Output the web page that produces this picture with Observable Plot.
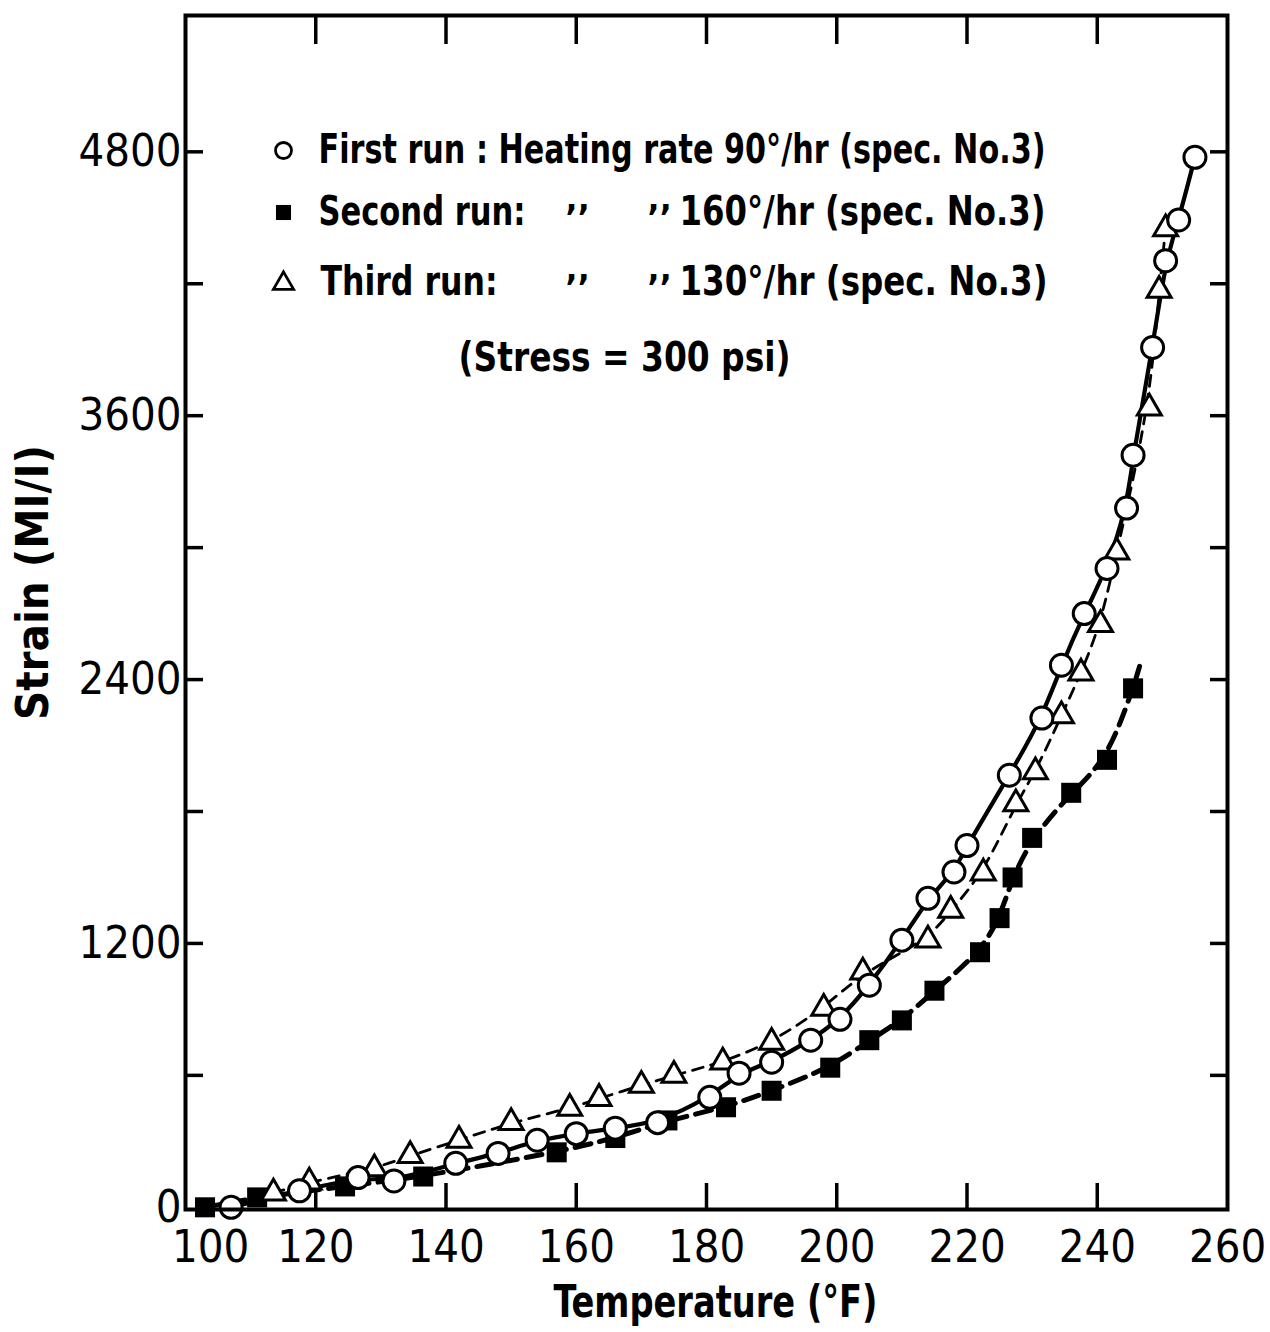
<!DOCTYPE html>
<html>
<head>
<meta charset="utf-8">
<script src="https://cdn.jsdelivr.net/npm/d3@7"></script>
<script src="https://cdn.jsdelivr.net/npm/@observablehq/plot@0.6"></script>
<style>
  html, body { margin: 0; padding: 0; background: white; }
  #chart { width: 1270px; height: 1332px; }
</style>
</head>
<body>
<div id="chart"></div>
<script>
// ---- Data ----
// First run (open circles), heating rate 90°/hr
const firstT = [107, 117.5, 126.5, 132, 141.5, 148, 154, 160, 166, 172.5, 180.5, 185, 190, 196, 200.5, 205, 210, 214, 218, 220, 226.5, 231.5, 234.5, 238, 241.5, 244.5, 245.5, 248.5, 250.5, 252.5, 255];
const firstS = [0, 75, 135, 120, 200, 245, 305, 335, 360, 385, 500, 610, 660, 760, 855, 1010, 1215, 1405, 1525, 1645, 1965, 2225, 2465, 2700, 2905, 3180, 3420, 3910, 4305, 4490, 4775];
// Second run (filled squares), heating rate 160°/hr
const secondT = [103, 111, 124.5, 136.5, 157, 166, 174, 183, 190, 199, 205, 210, 215, 222, 225, 227, 230, 236, 241.5, 245.5];
const secondS = [0, 45, 95, 140, 250, 315, 395, 455, 530, 635, 760, 850, 985, 1160, 1315, 1500, 1680, 1885, 2035, 2360];
// end of the fitted dashed curve of the second run (beyond last square)
const secondTailT = [246.5];
const secondTailS = [2460];
// Third run (open triangles), heating rate 130°/hr
const thirdT = [113.5, 119, 129, 134.5, 142, 150, 159, 163.5, 170, 175, 182.5, 190, 198, 204, 214, 217.5, 222.5, 227.5, 230.5, 234.5, 237.5, 240.5, 243, 248, 249.5, 250.5];
const thirdS = [65, 115, 175, 235, 305, 385, 450, 495, 555, 600, 660, 750, 905, 1070, 1215, 1350, 1520, 1835, 1980, 2235, 2430, 2650, 2980, 3635, 4170, 4450];

// ---- Axis ticks ----
const xTickMarks = [120, 140, 160, 180, 200, 220, 240];
const xTickLabels = [120, 140, 160, 180, 200, 220, 240, 260];
const xFirstLabel = [100];
const yTickMarks = [600, 1200, 1800, 2400, 3000, 3600, 4200, 4800];
const yTickLabels = [0, 1200, 2400, 3600, 4800];

// ---- Texts ----
const xTitle = "Temperature (°F)";
const yTitle = "Strain (MI/I)";
const legendFirst = "First run : Heating rate 90°/hr (spec. No.3)";
const legendRun = ["Second run:", "Third run:"];
const legendRate = ["160°/hr (spec. No.3)", "130°/hr (spec. No.3)"];
const dittoMark = "’’";
const stressNote = "(Stress = 300 psi)";

const zip = (T, S) => T.map((t, i) => ({t, s: S[i]}));
const first = zip(firstT, firstS);
const second = zip(secondT, secondS);
const secondCurve = second.concat(zip(secondTailT, secondTailS));
const third = zip(thirdT, thirdS);

const FONT = "'DejaVu Sans Condensed', 'DejaVu Sans', sans-serif";
const legendFont = 40;
const rowDy = [135, 197, 267];

const legendMarks = [];
// symbols
legendMarks.push(Plot.dot([0], {frameAnchor: "top-left", dx: 98, dy: rowDy[0], r: 8, symbol: "circle", fill: "white", stroke: "black", strokeWidth: 2.8}));
legendMarks.push(Plot.dot([0], {frameAnchor: "top-left", dx: 98, dy: rowDy[1], r: 8.5, symbol: "square", fill: "black", stroke: "none"}));
legendMarks.push(Plot.dot([0], {frameAnchor: "top-left", dx: 98, dy: rowDy[2] + 1, r: 7.5, symbol: "triangle", fill: "white", stroke: "black", strokeWidth: 2.8}));
// labels
legendMarks.push(Plot.text([legendFirst], {text: d => d, frameAnchor: "top-left", dx: 133, dy: rowDy[0], textAnchor: "start", lineAnchor: "middle", fontSize: legendFont, fontWeight: 600}));
const runDx = [133, 135];
legendRun.forEach((s, i) => legendMarks.push(Plot.text([s], {text: d => d, frameAnchor: "top-left", dx: runDx[i], dy: rowDy[i + 1], textAnchor: "start", lineAnchor: "middle", fontSize: legendFont, fontWeight: 600})));
legendRate.forEach((s, i) => legendMarks.push(Plot.text([s], {text: d => d, frameAnchor: "top-left", dx: 494, dy: rowDy[i + 1], textAnchor: "start", lineAnchor: "middle", fontSize: legendFont, fontWeight: 600})));
[1, 2].forEach(i => {
  legendMarks.push(Plot.text([dittoMark], {text: d => d, frameAnchor: "top-left", dx: 392, dy: rowDy[i] + 6, textAnchor: "middle", lineAnchor: "middle", fontSize: 36, fontWeight: 700}));
  legendMarks.push(Plot.text([dittoMark], {text: d => d, frameAnchor: "top-left", dx: 474, dy: rowDy[i] + 6, textAnchor: "middle", lineAnchor: "middle", fontSize: 36, fontWeight: 700}));
});
legendMarks.push(Plot.text([stressNote], {text: d => d, frameAnchor: "top-left", dx: 439, dy: 343, textAnchor: "middle", lineAnchor: "middle", fontSize: legendFont, fontWeight: 600}));

const chart = Plot.plot({
  width: 1270,
  height: 1332,
  marginLeft: 185,
  marginRight: 43,
  marginTop: 15,
  marginBottom: 123,
  style: {fontFamily: FONT, fontSize: "45px", background: "white", color: "black"},
  x: {domain: [100, 260], label: null},
  y: {domain: [-10, 5420], label: null},
  marks: [
    // inward tick marks on all four sides
    Plot.axisX(xTickMarks, {anchor: "bottom", tickSize: -26, tickFormat: () => "", strokeWidth: 3.5, label: null}),
    Plot.axisX(xTickMarks, {anchor: "top", tickSize: -28, tickFormat: () => "", strokeWidth: 3.5, label: null}),
    Plot.axisY(yTickMarks, {anchor: "left", tickSize: -18, tickFormat: () => "", strokeWidth: 3.5, label: null}),
    Plot.axisY(yTickMarks, {anchor: "right", tickSize: -18, tickFormat: () => "", strokeWidth: 3.5, label: null}),
    // tick labels
    Plot.axisX(xTickLabels, {anchor: "bottom", tickSize: 0, tickPadding: 21, fontSize: 45, tickFormat: d3.format("d"), label: null}),
    Plot.axisX(xFirstLabel, {anchor: "bottom", tickSize: 0, tickPadding: 21, dx: 25, fontSize: 45, tickFormat: d3.format("d"), label: null}),
    Plot.axisY(yTickLabels, {anchor: "left", tickSize: 0, tickPadding: 4, fontSize: 45, tickFormat: d3.format("d"), label: null}),
    // axis titles
    Plot.text([xTitle], {text: d => d, frameAnchor: "bottom", dx: 9, dy: 93, textAnchor: "middle", lineAnchor: "middle", fontSize: 44, fontWeight: 700}),
    Plot.text([yTitle], {text: d => d, frameAnchor: "left", dx: -152, dy: -30, rotate: -90, textAnchor: "middle", lineAnchor: "middle", fontSize: 44, fontWeight: 700}),
    // fitted curves
    Plot.line(secondCurve, {x: "t", y: "s", curve: "basis", stroke: "black", strokeWidth: 5, strokeDasharray: "16,9"}),
    Plot.line(third, {x: "t", y: "s", curve: "basis", stroke: "black", strokeWidth: 2.8, strokeDasharray: "11,8"}),
    Plot.line(first, {x: "t", y: "s", curve: "basis", stroke: "black", strokeWidth: 4.2}),
    // data points
    Plot.dot(second, {x: "t", y: "s", symbol: "square", r: 11.3, fill: "black", stroke: "none"}),
    Plot.dot(third, {x: "t", y: "s", symbol: "triangle", r: 8.9, fill: "white", stroke: "black", strokeWidth: 3}),
    Plot.dot(first, {x: "t", y: "s", symbol: "circle", r: 11, fill: "white", stroke: "black", strokeWidth: 3}),
    ...legendMarks,
    Plot.frame({stroke: "black", strokeWidth: 4})
  ]
});

// Fit text widths to the reference layout
const textWidths = {
  "First run : Heating rate 90°/hr (spec. No.3)": 727,
  "Second run:": 207,
  "Third run:": 177,
  "160°/hr (spec. No.3)": 366,
  "130°/hr (spec. No.3)": 368,
  "(Stress = 300 psi)": 332,
  "Temperature (°F)": 324,
  "Strain (MI/I)": 275
};
chart.querySelectorAll("text").forEach(t => {
  const w = textWidths[t.textContent.trim()];
  if (w) { t.setAttribute("textLength", w); t.setAttribute("lengthAdjust", "spacingAndGlyphs"); }
});
document.getElementById("chart").appendChild(chart);
</script>
</body>
</html>
